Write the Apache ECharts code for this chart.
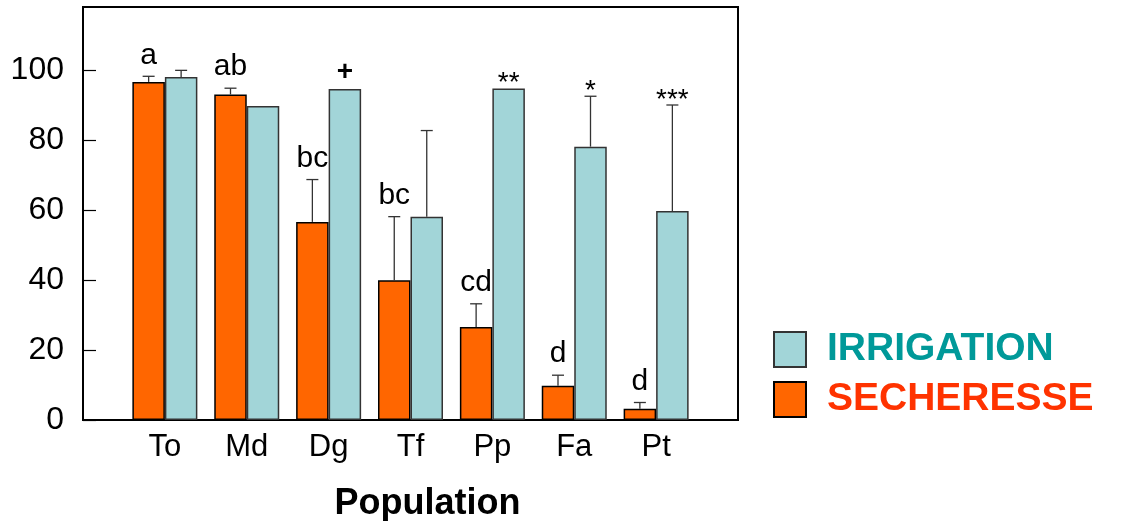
<!DOCTYPE html>
<html><head><meta charset="utf-8">
<script src="https://cdn.jsdelivr.net/npm/echarts@6/dist/echarts.min.js"></script>
<style>html,body{margin:0;padding:0;background:#fff}#c{width:1126px;height:521px}</style>
</head><body><div id="c"></div>
<script>
const categories = ['To', 'Md', 'Dg', 'Tf', 'Pp', 'Fa', 'Pt'];
const secheresse = [96.6, 93.0, 56.6, 39.9, 26.6, 9.8, 3.2];
const secheresseErr = [1.6, 1.8, 12.1, 18.2, 6.6, 3.0, 1.8];
const irrigation = [98.0, 89.7, 94.6, 58.1, 94.7, 78.1, 59.7];
const irrigationErr = [1.9, 0, 0, 24.6, 0, 14.4, 30.3];
const secheresseMarks = ['a', 'ab', 'bc', 'bc', 'cd', 'd', 'd'];
const irrigationMarks = ['', '', '+', '', '**', '*', '***'];
const yTicks = [0, 20, 40, 60, 80, 100];

const BAR_W = 32.5;
const FONT = '"Liberation Sans", Arial, sans-serif';
const axisCats = [''].concat(categories, ['']);
const pad = arr => [null].concat(arr, [null]);

function errRenderer(vals, errs, marks, side) {
  return function (params, api) {
    const i = params.dataIndex;
    const v = vals[i], e = errs[i];
    const cx = api.coord([i + 1, 0])[0] + side * BAR_W / 2;
    const yTop = api.coord([i + 1, v])[1];
    const yCap = api.coord([i + 1, v + e])[1];
    const children = [];
    if (e > 0) {
      children.push({ type: 'line', shape: { x1: cx, y1: yTop, x2: cx, y2: yCap }, style: { stroke: '#333', lineWidth: 1.3 } });
      children.push({ type: 'line', shape: { x1: cx - 6, y1: yCap, x2: cx + 6, y2: yCap }, style: { stroke: '#333', lineWidth: 1.3 } });
    }
    const m = marks[i];
    if (m) {
      let dy, size = 30, weight = 'normal';
      if (m.indexOf('*') >= 0) { dy = -5; size = 28; }
      else if (m === '+') { dy = -17; size = 28; weight = 'bold'; }
      else { dy = -21; }
      children.push({
        type: 'text',
        style: { text: m, x: cx, y: yCap + dy, fill: '#000', fontSize: size, fontWeight: weight, fontFamily: FONT, align: 'center', verticalAlign: 'middle' }
      });
    }
    return { type: 'group', children: children };
  };
}

const chart = echarts.init(document.getElementById('c'));
chart.setOption({
  animation: false,
  backgroundColor: '#fff',
  grid: { left: 83, right: 388, top: 7, bottom: 101, show: true, borderColor: '#000', borderWidth: 2, containLabel: false, outerBoundsMode: 'none' },
  legend: {
    orient: 'vertical', left: 773, top: 330, padding: 0, itemWidth: 32, itemHeight: 35, itemGap: 11,
    icon: 'rect',
    data: [
      { name: 'IRRIGATION', textStyle: { color: '#009999' } },
      { name: 'SECHERESSE', textStyle: { color: '#FF3300' } }
    ],
    textStyle: { fontSize: 39, fontWeight: 'bold', fontFamily: FONT, padding: [0, 0, 0, 16] }
  },
  xAxis: {
    type: 'category', data: axisCats, boundaryGap: false,
    axisLine: { lineStyle: { color: '#000', width: 2 } },
    axisTick: { show: false },
    axisLabel: { color: '#000', fontSize: 31, fontFamily: FONT, margin: 12, interval: 0 },
    name: 'Population', nameLocation: 'middle', nameGap: 66,
    nameTextStyle: { color: '#000', fontSize: 36, fontWeight: 'bold', fontFamily: FONT, padding: [0, 0, 0, 34] }
  },
  yAxis: {
    type: 'value', min: 0, max: 118, interval: 20,
    axisLine: { show: true, lineStyle: { color: '#000', width: 2 } },
    axisTick: { show: true, inside: true, length: 13, customValues: yTicks, lineStyle: { color: '#000', width: 1.2 } },
    axisLabel: { color: '#000', fontSize: 32, fontFamily: FONT, margin: 19, customValues: yTicks },
    splitLine: { show: false }
  },
  series: [
    { name: 'SECHERESSE', type: 'bar', data: pad(secheresse), barWidth: BAR_W, barGap: '0%',
      itemStyle: { color: '#FF6600', borderColor: '#000', borderWidth: 1.5 } },
    { name: 'IRRIGATION', type: 'bar', data: pad(irrigation), barWidth: BAR_W, barGap: '0%',
      itemStyle: { color: '#A2D5D8', borderColor: '#333', borderWidth: 1.5 } },
    { name: 'errS', type: 'custom', z: 5, data: categories.map((c, i) => [i + 1, secheresse[i] + secheresseErr[i]]),
      renderItem: errRenderer(secheresse, secheresseErr, secheresseMarks, -1) },
    { name: 'errI', type: 'custom', z: 5, data: categories.map((c, i) => [i + 1, irrigation[i] + irrigationErr[i]]),
      renderItem: errRenderer(irrigation, irrigationErr, irrigationMarks, 1) }
  ]
});
</script></body></html>
